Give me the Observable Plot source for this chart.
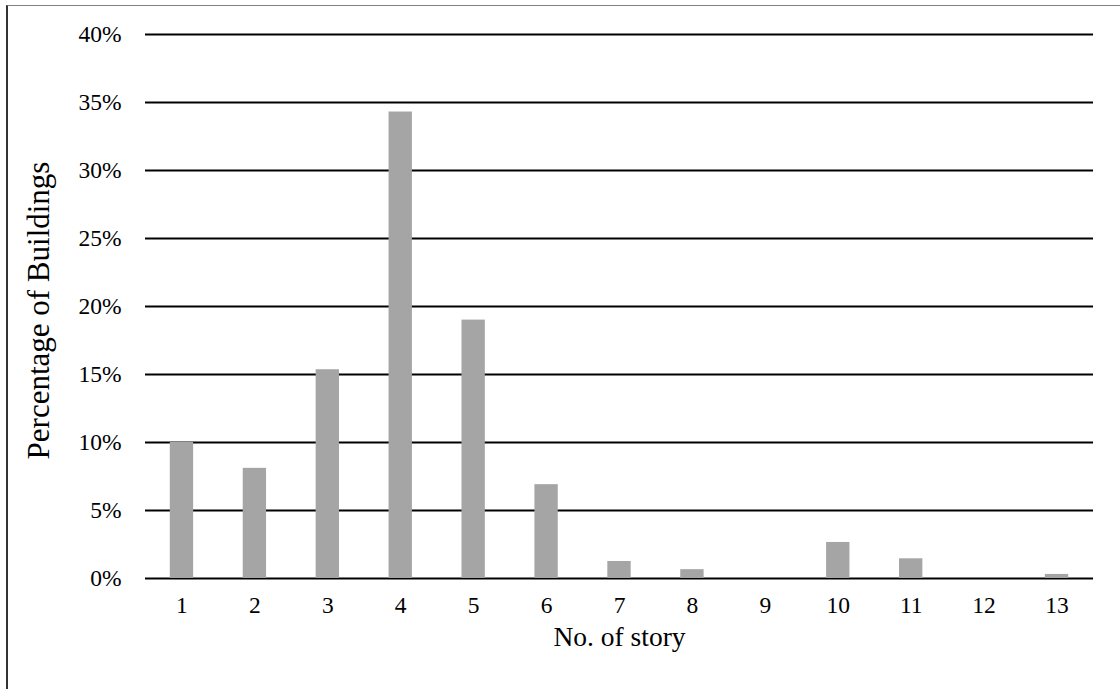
<!DOCTYPE html>
<html>
<head>
<meta charset="utf-8">
<script src="https://cdn.jsdelivr.net/npm/d3@7"></script>
<script src="https://cdn.jsdelivr.net/npm/@observablehq/plot@0.6"></script>
<style>
  html, body { margin: 0; padding: 0; background: #fff; }
  #chart { position: relative; width: 1120px; height: 689px; overflow: hidden; }
  #frame {
    position: absolute; left: 6px; top: 5px; right: -10px; bottom: -10px;
    border-left: 2px solid #333; border-top: 1px solid #808080;
    pointer-events: none;
  }
</style>
</head>
<body>
<div id="chart"><div id="frame"></div></div>
<script>
// Number of stories per building
const stories = ["1", "2", "3", "4", "5", "6", "7", "8", "9", "10", "11", "12", "13"];
// Share of buildings (%) for each story count
const shares = [10.0, 8.1, 15.35, 34.3, 19.0, 6.9, 1.25, 0.65, 0, 2.65, 1.45, 0, 0.3];
// Gridline / tick positions on the percentage axis
const yTicks = [0, 5, 10, 15, 20, 25, 30, 35, 40];

const data = stories.map((story, i) => ({story, share: shares[i]}));

const serif = '"Liberation Serif", "Times New Roman", Times, serif';

const chart = Plot.plot({
  width: 1120,
  height: 689,
  marginLeft: 145,
  marginRight: 27,
  marginTop: 34,
  marginBottom: 111,
  style: {fontFamily: serif, background: "transparent", color: "#000", overflow: "visible"},
  x: {domain: stories, paddingInner: 0.68, paddingOuter: 0.34, round: false, label: null},
  y: {domain: [0, 40], label: null},
  marks: [
    Plot.ruleY(yTicks, {stroke: "#000", strokeWidth: 2}),
    Plot.barY(data, {x: "story", y: "share", fill: "#a5a5a5"}),
    Plot.axisX({tickSize: 0, tickPadding: 18, fontSize: 23.5, label: null}),
    Plot.axisY({
      ticks: yTicks, tickSize: 0, tickPadding: 24, fontSize: 23.5,
      tickFormat: d => d + "%", label: null
    }),
    Plot.text(["No. of story"], {
      frameAnchor: "bottom", dy: 67, fontSize: 27.5, fill: "#000"
    }),
    Plot.text(["Percentage of Buildings"], {
      frameAnchor: "left", textAnchor: "middle", rotate: -90,
      dx: -106, dy: 4, fontSize: 31, fill: "#000"
    })
  ]
});

document.getElementById("chart").prepend(chart);
</script>
</body>
</html>
